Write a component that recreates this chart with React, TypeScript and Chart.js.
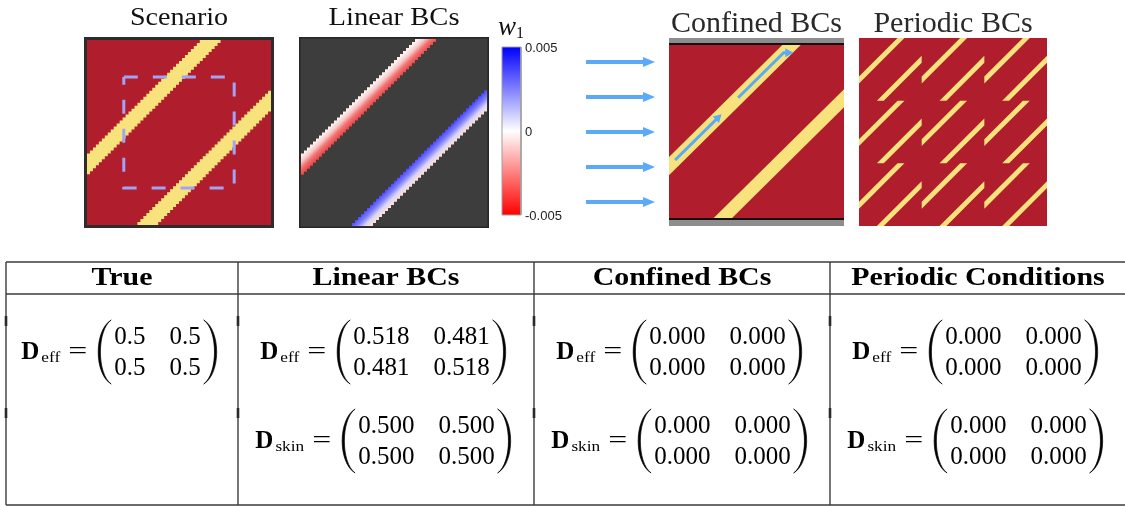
import { useEffect, useRef } from 'react';
import { Chart, registerables } from 'chart.js';

Chart.register(...registerables);

// ---------------- data ----------------
const panelTitles = ['Scenario', 'Linear BCs', 'Confined BCs', 'Periodic BCs'];
const tableHeaders = ['True', 'Linear BCs', 'Confined BCs', 'Periodic Conditions'];

const colorbarMin = -0.005;
const colorbarMax = 0.005;
const colorbarTicks = [0.005, 0, -0.005];
const colorbarTickLabels = ['0.005', '0', '-0.005'];

const scenarioStripeOffsets = [0.316, -0.316];
const scenarioStripeWidth = 0.11;
const scenarioWindow = [0.2, 0.8];
const gridCells = 62;

const linearStripeOffsets = [0.316, -0.316];
const linearStripeWidth = 0.11;

const confinedStripeOffsets = [0.3, -0.308];
const confinedStripeWidth = 0.105;
const confinedFlowStarts = [0.035, 0.395];
const confinedFlowEnds = [0.3, 0.655];
const confinedFlowTurns = [0, 0.055];

const periodicStripeOffsets = [0.33, -0.34];
const periodicStripeWidth = 0.11;
const periodicTiles = 3;

const inflowArrowCount = 5;

const trueDeff = [[0.5, 0.5], [0.5, 0.5]];
const linearDeff = [[0.518, 0.481], [0.481, 0.518]];
const linearDskin = [[0.5, 0.5], [0.5, 0.5]];
const confinedDeff = [[0, 0], [0, 0]];
const confinedDskin = [[0, 0], [0, 0]];
const periodicDeff = [[0, 0], [0, 0]];
const periodicDskin = [[0, 0], [0, 0]];
const matrixDecimals = [1, 3, 3, 3];

const tableColumns = [
  [{ sub: 'eff', m: trueDeff }],
  [{ sub: 'eff', m: linearDeff }, { sub: 'skin', m: linearDskin }],
  [{ sub: 'eff', m: confinedDeff }, { sub: 'skin', m: confinedDskin }],
  [{ sub: 'eff', m: periodicDeff }, { sub: 'skin', m: periodicDskin }],
];

// ---------------- layout / style ----------------
const W = 1125;
const H = 506;
const RED = '#b01d2d';
const YELLOW = '#f7e27c';
const FLOW_BLUE = '#5aaaf8';
const SERIF = '"Liberation Serif", "Times New Roman", serif';
const SANS = '"Liberation Sans", Arial, sans-serif';

const LAYOUT = {
  scenario: { x0: 84, y0: 37, x1: 274, y1: 228 },
  linear: { x0: 299, y0: 37, x1: 489, y1: 228 },
  colorbar: { x0: 502, y0: 47, x1: 521, y1: 215 },
  inflow: { x0: 586, x1: 655, yFirst: 62, yStep: 35 },
  confined: { x0: 669, y0: 38, x1: 844, y1: 226 },
  periodic: { x0: 859, y0: 38, x1: 1047, y1: 226 },
  table: { cols: [6, 238, 534, 830, 1126], top: 262, head: 294, bottom: 505, rowsY: [352, 441] },
};

type Rect = { x0: number; y0: number; x1: number; y1: number };
type P = { x: number; y: number };

const inset = (r: Rect, d: number): Rect => ({ x0: r.x0 + d, y0: r.y0 + d, x1: r.x1 - d, y1: r.y1 - d });
const rectPoly = (r: Rect): P[] => [
  { x: r.x0, y: r.y0 }, { x: r.x1, y: r.y0 }, { x: r.x1, y: r.y1 }, { x: r.x0, y: r.y1 },
];
const mapUV = (r: Rect, u: number, v: number): P => ({ x: r.x0 + u * (r.x1 - r.x0), y: r.y1 - v * (r.y1 - r.y0) });

function clipToUnit(pts: number[][]): number[][] {
  let out = pts;
  const planes = [[0, 0, 1], [0, 1, -1], [1, 0, 1], [1, 1, -1]];
  for (const [axis, bound, sign] of planes) {
    const inp = out;
    out = [];
    for (let i = 0; i < inp.length; i++) {
      const a = inp[i];
      const b = inp[(i + 1) % inp.length];
      const da = sign * (a[axis] - bound);
      const db = sign * (b[axis] - bound);
      if (da >= 0) out.push(a);
      if ((da >= 0) !== (db >= 0)) {
        const t = da / (da - db);
        out.push([a[0] + t * (b[0] - a[0]), a[1] + t * (b[1] - a[1])]);
      }
    }
  }
  return out;
}

function bandPoly(c: number, w: number): number[][] {
  return clipToUnit([
    [-1 - c - w / 2, -1], [2 - c - w / 2, 2], [2 - c + w / 2, 2], [-1 - c + w / 2, -1],
  ]);
}

function staircaseBand(c: number, w: number, n: number): number[][] {
  const rows: number[][] = [];
  for (let j = 0; j < n; j++) {
    const uc = (j + 0.5) / n - c;
    const i0 = Math.max(0, Math.ceil((uc - w / 2) * n - 0.5));
    const i1 = Math.min(n - 1, Math.floor((uc + w / 2) * n - 0.5));
    if (i1 >= i0) rows.push([j, i0, i1]);
  }
  const pts: number[][] = [];
  for (const [j, i0] of rows) pts.push([i0 / n, j / n], [i0 / n, (j + 1) / n]);
  for (let k = rows.length - 1; k >= 0; k--) {
    const [j, , i1] = rows[k];
    pts.push([(i1 + 1) / n, (j + 1) / n], [(i1 + 1) / n, j / n]);
  }
  return pts;
}

function polyDataset(points: P[], color: any, extra: any = {}) {
  return {
    type: 'line',
    data: points,
    backgroundColor: color,
    borderWidth: 0,
    fill: 'shape',
    pointRadius: 0,
    pointHoverRadius: 0,
    tension: 0,
    ...extra,
  };
}

function lineDataset(points: P[], color: string, width: number, extra: any = {}) {
  return {
    type: 'line',
    data: points,
    borderColor: color,
    borderWidth: width,
    fill: false,
    pointRadius: 0,
    pointHoverRadius: 0,
    tension: 0,
    ...extra,
  };
}

function arrowParts(from: P, tip: P, len: number, half: number, color: string, width: number) {
  const dx = tip.x - from.x;
  const dy = tip.y - from.y;
  const L = Math.hypot(dx, dy);
  const ux = dx / L;
  const uy = dy / L;
  const bx = tip.x - ux * len;
  const by = tip.y - uy * len;
  return {
    base: { x: bx + ux * 1, y: by + uy * 1 },
    head: polyDataset([tip, { x: bx - uy * half, y: by + ux * half }, { x: bx + uy * half, y: by - ux * half }], color),
  };
}

function stripeGradient(rect: Rect, c: number, w: number, stops: [number, string][], fallback: string) {
  return (context: any) => {
    const chart = context.chart;
    const xs = chart.scales && chart.scales.x;
    const ys = chart.scales && chart.scales.y;
    if (!xs || !ys || !chart.chartArea) return fallback;
    const uP = (1 - c) / 2;
    const vP = uP + c;
    const a = mapUV(rect, uP - w / 4, vP + w / 4);
    const b = mapUV(rect, uP + w / 4, vP - w / 4);
    const g = chart.ctx.createLinearGradient(
      xs.getPixelForValue(a.x), ys.getPixelForValue(a.y), xs.getPixelForValue(b.x), ys.getPixelForValue(b.y));
    stops.forEach(([o, col]) => g.addColorStop(o, col));
    return g;
  };
}

function colorbarGradient(r: Rect) {
  return (context: any) => {
    const chart = context.chart;
    const ys = chart.scales && chart.scales.y;
    if (!ys || !chart.chartArea) return '#ffffff';
    const g = chart.ctx.createLinearGradient(0, ys.getPixelForValue(r.y0), 0, ys.getPixelForValue(r.y1));
    g.addColorStop(0, '#0000ff');
    g.addColorStop(0.5, '#ffffff');
    g.addColorStop(1, '#ff0000');
    return g;
  };
}

function buildDatasets() {
  const ds: any[] = [];
  const toP = (r: Rect, pts: number[][]) => pts.map(([u, v]) => mapUV(r, u, v));

  // Scenario
  const sc = LAYOUT.scenario;
  const scIn = inset(sc, 3);
  ds.push(polyDataset(rectPoly(sc), '#2d2d2d'));
  ds.push(polyDataset(rectPoly(scIn), RED));
  scenarioStripeOffsets.forEach((c) => ds.push(polyDataset(toP(scIn, staircaseBand(c, scenarioStripeWidth, gridCells)), YELLOW)));
  const [w0, w1] = scenarioWindow;
  const winPts = [mapUV(scIn, w0, w1), mapUV(scIn, w1, w1), mapUV(scIn, w1, w0), mapUV(scIn, w0, w0), mapUV(scIn, w0, w1)];
  ds.push(lineDataset(winPts, '#a3a3f3', 3, { borderDash: [14, 15], borderCapStyle: 'butt' }));

  // Linear BCs
  const li = LAYOUT.linear;
  const liIn = inset(li, 2);
  ds.push(polyDataset(rectPoly(li), '#262626'));
  ds.push(polyDataset(rectPoly(inset(li, 1.5)), '#3d3d3d'));
  const linStops: [number, string][][] = [
    [[0, '#fdf1f1'], [0.3, '#f8c8c8'], [0.6, '#f07575'], [1, '#ea4040']],
    [[0, '#4444ff'], [0.4, '#7f7ffb'], [0.75, '#d8d4f4'], [1, '#f8dede']],
  ];
  linearStripeOffsets.forEach((c, k) => {
    ds.push(polyDataset(toP(liIn, staircaseBand(c, linearStripeWidth, gridCells)),
      stripeGradient(liIn, c, linearStripeWidth, linStops[k], k === 0 ? '#f08080' : '#8080ff')));
  });

  // Colorbar
  const cb = LAYOUT.colorbar;
  const cbPts = rectPoly(cb);
  ds.push(polyDataset([...cbPts, cbPts[0]], colorbarGradient(cb), { borderWidth: 1, borderColor: '#a0a0a0' }));

  // Inflow arrows
  const inf = LAYOUT.inflow;
  for (let k = 0; k < inflowArrowCount; k++) {
    const y = inf.yFirst + k * inf.yStep;
    const a = arrowParts({ x: inf.x0, y }, { x: inf.x1, y }, 12, 5, FLOW_BLUE, 4);
    ds.push(lineDataset([{ x: inf.x0, y }, a.base], FLOW_BLUE, 4, { borderCapStyle: 'butt' }));
    ds.push(a.head);
  }

  // Confined BCs
  const co = LAYOUT.confined;
  ds.push(polyDataset(rectPoly(co), '#8d8d8d'));
  ds.push(polyDataset(rectPoly({ x0: co.x0, y0: co.y0 + 5, x1: co.x1, y1: co.y1 - 6 }), '#111111'));
  const coIn: Rect = { x0: co.x0, y0: co.y0 + 7, x1: co.x1, y1: co.y1 - 8 };
  ds.push(polyDataset(rectPoly(coIn), RED));
  confinedStripeOffsets.forEach((c) => ds.push(polyDataset(toP(coIn, bandPoly(c, confinedStripeWidth)), YELLOW)));
  const cFlow = confinedStripeOffsets[0];
  confinedFlowStarts.forEach((u0, k) => {
    const u1 = confinedFlowEnds[k];
    const pts: P[] = [mapUV(coIn, u0, u0 + cFlow), mapUV(coIn, u1, u1 + cFlow)];
    if (confinedFlowTurns[k] > 0) pts.push(mapUV(coIn, u1 + confinedFlowTurns[k], u1 + cFlow));
    const tip = pts[pts.length - 1];
    const a = arrowParts(pts[pts.length - 2], tip, 8, 4.5, FLOW_BLUE, 3);
    const shaft = [...pts.slice(0, -1), a.base];
    ds.push(lineDataset(shaft, FLOW_BLUE, 3, { borderCapStyle: 'butt', borderJoinStyle: 'miter' }));
    ds.push(a.head);
  });

  // Periodic BCs
  const pe = LAYOUT.periodic;
  ds.push(polyDataset(rectPoly(pe), RED));
  for (let i = 0; i < periodicTiles; i++) {
    for (let j = 0; j < periodicTiles; j++) {
      periodicStripeOffsets.forEach((c) => {
        const tile = bandPoly(c, periodicStripeWidth).map(([s, t]) => mapUV(pe, (i + s) / periodicTiles, (j + t) / periodicTiles));
        ds.push(polyDataset(tile, YELLOW));
      });
    }
  }

  ds.forEach((d, i) => { d.order = -i; });
  return ds;
}

// ---------------- text helpers ----------------
function drawText(ctx: CanvasRenderingContext2D, text: string, x: number, y: number, font: string, color: string,
  align: CanvasTextAlign = 'left', sx = 1, baseline: CanvasTextBaseline = 'alphabetic') {
  ctx.save();
  ctx.font = font;
  ctx.fillStyle = color;
  ctx.textAlign = align;
  ctx.textBaseline = baseline;
  ctx.translate(x, y);
  ctx.scale(sx, 1);
  ctx.fillText(text, 0, 0);
  ctx.restore();
}

function measure(ctx: CanvasRenderingContext2D, text: string, font: string, sx = 1) {
  ctx.save();
  ctx.font = font;
  const w = ctx.measureText(text).width * sx;
  ctx.restore();
  return w;
}

function drawParen(ctx: CanvasRenderingContext2D, xl: number, xr: number, yTop: number, yBot: number, left: boolean, thick: number) {
  const h = yBot - yTop;
  const k = h * 0.16;
  const endX = left ? xr : xl;
  const bulge = left ? xl : xr;
  const inner = left ? bulge + thick : bulge - thick;
  const cO = (bulge - 0.25 * endX) / 0.75;
  const cI = (inner - 0.25 * endX) / 0.75;
  ctx.save();
  ctx.fillStyle = '#000';
  ctx.strokeStyle = '#000';
  ctx.lineWidth = 0.7;
  ctx.beginPath();
  ctx.moveTo(endX, yTop);
  ctx.bezierCurveTo(cO, yTop + k, cO, yBot - k, endX, yBot);
  ctx.bezierCurveTo(cI, yBot - k, cI, yTop + k, endX, yTop);
  ctx.closePath();
  ctx.fill();
  ctx.stroke();
  ctx.restore();
}

function drawEquation(ctx: CanvasRenderingContext2D, X: (v: number) => number, Y: (v: number) => number,
  colL: number, colR: number, cy: number, sub: string, m: number[][], decimals: number) {
  const fD = `bold 25px ${SERIF}`;
  const fSub = `15px ${SERIF}`;
  const fNum = `25px ${SERIF}`;
  const subSx = 1.15;
  const wD = measure(ctx, 'D', fD);
  const wSub = measure(ctx, sub, fSub, subSx);
  const eqW = 19;
  const eqSx = eqW / measure(ctx, '=', fNum);
  const cells = m.map((r) => r.map((v) => v.toFixed(decimals)));
  const colW = [0, 1].map((j) => Math.max(...cells.map((r) => measure(ctx, r[j], fNum))));
  const parenW = 13;
  const gapSub = 2;
  const gapEq = 8;
  const gapParen = 11;
  const padIn = 3;
  const colGap = 24;
  const total = wD + gapSub + wSub + gapEq + eqW + gapParen + parenW + padIn + colW[0] + colGap + colW[1] + padIn + parenW;
  let x = (colL + colR) / 2 - 3 - total / 2;
  drawText(ctx, 'D', X(x), Y(cy + 7), fD, '#000');
  x += wD + gapSub;
  drawText(ctx, sub, X(x), Y(cy + 10), fSub, '#000', 'left', subSx);
  x += wSub + gapEq;
  drawText(ctx, '=', X(x), Y(cy + 7), fNum, '#000', 'left', eqSx);
  x += eqW + gapParen;
  drawParen(ctx, X(x), X(x + parenW), Y(cy - 32), Y(cy + 32), true, 2.2);
  x += parenW + padIn;
  const rowBase = [cy - 8, cy + 23];
  const c0 = x + colW[0] / 2;
  x += colW[0] + colGap;
  const c1 = x + colW[1] / 2;
  x += colW[1] + padIn;
  cells.forEach((r, i) => {
    drawText(ctx, r[0], X(c0), Y(rowBase[i]), fNum, '#000', 'center');
    drawText(ctx, r[1], X(c1), Y(rowBase[i]), fNum, '#000', 'center');
  });
  drawParen(ctx, X(x), X(x + parenW), Y(cy - 32), Y(cy + 32), false, 2.2);
}

const overlayPlugin = {
  id: 'figureOverlay',
  beforeDraw(chart: any) {
    const { ctx, width, height } = chart;
    ctx.save();
    ctx.fillStyle = '#ffffff';
    ctx.fillRect(0, 0, width, height);
    ctx.restore();
  },
  afterDatasetsDraw(chart: any) {
    const ctx: CanvasRenderingContext2D = chart.ctx;
    const xs = chart.scales.x;
    const ys = chart.scales.y;
    const X = (v: number) => xs.getPixelForValue(v);
    const Y = (v: number) => ys.getPixelForValue(v);

    // panel titles
    const sc = LAYOUT.scenario, li = LAYOUT.linear, co = LAYOUT.confined, pe = LAYOUT.periodic;
    drawText(ctx, panelTitles[0], X((sc.x0 + sc.x1) / 2), Y(25), `26px ${SERIF}`, '#111', 'center', 1.08);
    drawText(ctx, panelTitles[1], X((li.x0 + li.x1) / 2), Y(25), `26px ${SERIF}`, '#111', 'center', 1.1);
    drawText(ctx, panelTitles[2], X((co.x0 + co.x1) / 2), Y(32), `30px ${SERIF}`, '#2a2a2a', 'center', 1.0);
    drawText(ctx, panelTitles[3], X((pe.x0 + pe.x1) / 2), Y(32), `30px ${SERIF}`, '#2a2a2a', 'center', 1.0);

    // colorbar label and ticks
    const cb = LAYOUT.colorbar;
    drawText(ctx, 'w', X(498), Y(35), `italic 27px ${SERIF}`, '#111');
    drawText(ctx, '1', X(516), Y(38), `16px ${SERIF}`, '#111');
    colorbarTicks.forEach((v, i) => {
      const y = cb.y1 - ((v - colorbarMin) / (colorbarMax - colorbarMin)) * (cb.y1 - cb.y0);
      drawText(ctx, colorbarTickLabels[i], X(cb.x1 + 4), Y(y + 1), `13px ${SANS}`, '#222', 'left', 1, 'middle');
    });

    // table grid
    const t = LAYOUT.table;
    ctx.save();
    ctx.strokeStyle = '#3c3c3c';
    ctx.lineWidth = 1.4;
    ctx.beginPath();
    [t.top, t.head, t.bottom].forEach((y) => { ctx.moveTo(X(t.cols[0]), Y(y)); ctx.lineTo(X(W), Y(y)); });
    t.cols.slice(0, 4).forEach((x) => { ctx.moveTo(X(x), Y(t.top)); ctx.lineTo(X(x), Y(t.bottom)); });
    ctx.stroke();
    ctx.fillStyle = '#2a2a2a';
    t.cols.slice(0, 4).forEach((x) => {
      ctx.fillRect(X(x) - 1.3, Y(316), 2.6, 10);
      ctx.fillRect(X(x) - 1.3, Y(408), 2.6, 10);
    });
    ctx.restore();

    // headers
    tableHeaders.forEach((h, i) => {
      drawText(ctx, h, X((t.cols[i] + t.cols[i + 1]) / 2), Y(285), `bold 26px ${SERIF}`, '#000', 'center', 1.15);
    });

    // equations
    tableColumns.forEach((col, i) => {
      col.forEach((cell, r) => {
        drawEquation(ctx, X, Y, t.cols[i], t.cols[i + 1], t.rowsY[r], cell.sub, cell.m, matrixDecimals[i]);
      });
    });
  },
};

export default function App() {
  const ref = useRef<HTMLCanvasElement>(null);
  useEffect(() => {
    const canvas = ref.current;
    if (!canvas) return;
    const chart = new Chart(canvas, {
      type: 'line',
      data: { datasets: buildDatasets() },
      options: {
        animation: false,
        responsive: false,
        maintainAspectRatio: false,
        devicePixelRatio: 1,
        events: [],
        layout: { padding: 0 },
        scales: {
          x: { type: 'linear', min: 0, max: W, display: false },
          y: { type: 'linear', min: 0, max: H, reverse: true, display: false },
        },
        plugins: {
          legend: { display: false },
          tooltip: { enabled: false },
          filler: { propagate: false },
        },
      },
      plugins: [overlayPlugin],
    } as any);
    return () => chart.destroy();
  }, []);
  return (
    <div style={{ position: 'absolute', left: 0, top: 0, width: W, height: H, background: '#fff' }}>
      <canvas ref={ref} width={W} height={H} style={{ display: 'block', width: W, height: H }} />
    </div>
  );
}
